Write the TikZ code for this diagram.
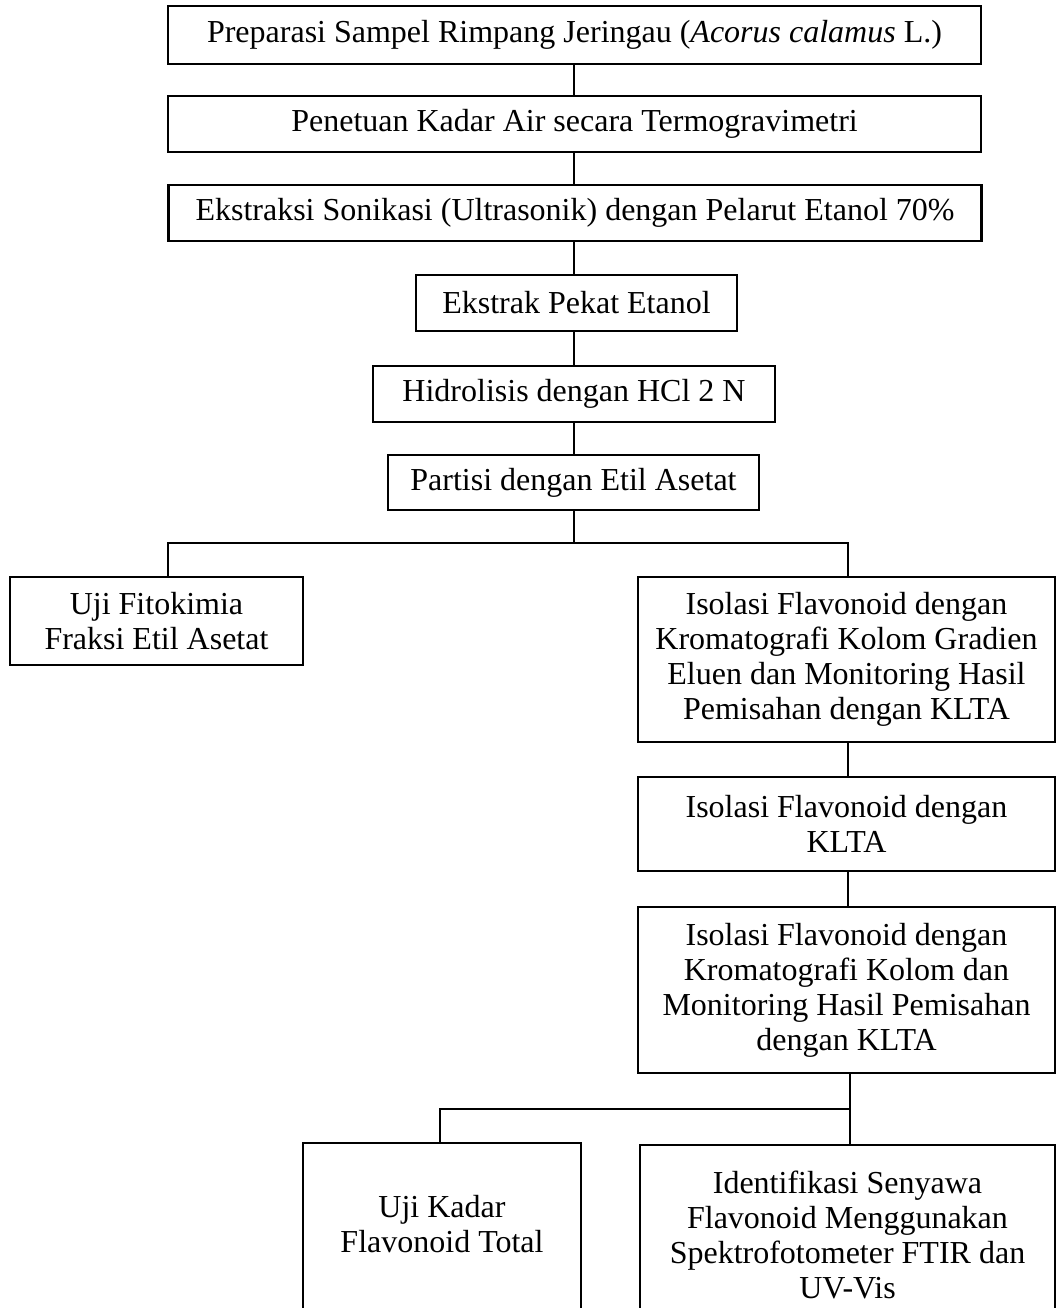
\documentclass[tikz,border=0pt]{standalone}
\usepackage{fontspec}
\setmainfont{Liberation Serif}
\usetikzlibrary{calc, positioning}

\tikzset{
  stepbox/.style={draw, line width=2.4pt, align=center, inner sep=0pt,
    font=\fontsize{32}{35}\selectfont},
  link/.style={line width=2.4pt}
}

\begin{document}
\begin{tikzpicture}[x=1pt, y=1pt]
        \useasboundingbox (0,0) rectangle (1057,-1308);
        \clip (0,0) rectangle (1057,-1308);

        % main column
        \node[stepbox, minimum width=813, minimum height=58] (prep) at (574.5,-35) {Preparasi Sampel Rimpang Jeringau (\textit{Acorus calamus} L.)};
        \node[stepbox, minimum width=813, minimum height=56] (kadarair) at (574.5,-124) {Penetuan Kadar Air secara Termogravimetri};
        \node[stepbox, minimum width=813, minimum height=56] (sonik) at (575,-213) {Ekstraksi Sonikasi (Ultrasonik) dengan Pelarut Etanol 70\%};
        \node[stepbox, minimum width=321, minimum height=56] (pekat) at (576.5,-303) {Ekstrak Pekat Etanol};
        \node[stepbox, minimum width=402, minimum height=56] (hidro) at (574,-394) {Hidrolisis dengan HCl 2 N};
        \node[stepbox, minimum width=371, minimum height=55] (partisi) at (573.5,-482.5) {Partisi dengan Etil Asetat};

        \coordinate (spine) at (574,0);
        \draw[link] (prep.south -| spine) -- (kadarair.north -| spine);
        \draw[link] (kadarair.south -| spine) -- (sonik.north -| spine);
        \draw[link] (sonik.south -| spine) -- (pekat.north -| spine);
        \draw[link] (pekat.south -| spine) -- (hidro.north -| spine);
        \draw[link] (hidro.south -| spine) -- (partisi.north -| spine);

        % branches after partition
        \node[stepbox, minimum width=293, minimum height=88] (fito) at (156.5,-621) {Uji Fitokimia\\Fraksi Etil Asetat};
        \node[stepbox, minimum width=417, minimum height=165] (isoA) at (846.5,-659.5) {Isolasi Flavonoid dengan\\Kromatografi Kolom Gradien\\Eluen dan Monitoring Hasil\\Pemisahan dengan KLTA};
        \node[stepbox, minimum width=417, minimum height=94] (isoB) at (846.5,-824) {Isolasi Flavonoid dengan\\KLTA};
        \node[stepbox, minimum width=417, minimum height=166] (isoC) at (846.5,-990) {Isolasi Flavonoid dengan\\Kromatografi Kolom dan\\Monitoring Hasil Pemisahan\\dengan KLTA};

        \coordinate (splitL) at (168,-543);
        \coordinate (splitR) at (848,-543);
        \draw[link] (partisi.south -| spine) -- (spine |- splitL);
        \draw[link] (splitL |- fito.north) -- (splitL) -- (splitR) -- (splitR |- isoA.north);
        \draw[link] (isoA.south -| splitR) -- (isoB.north -| splitR);
        \draw[link] (isoB.south -| splitR) -- (isoC.north -| splitR);

        % final tests
        \node[stepbox, minimum width=278, minimum height=180, anchor=north] (total) at (442,-1142) {Uji Kadar\\Flavonoid Total\\[-17pt]\mbox{}};
        \node[stepbox, minimum width=415, minimum height=180, anchor=north] (ident) at (847.5,-1144) {Identifikasi Senyawa\\Flavonoid Menggunakan\\Spektrofotometer FTIR dan\\UV-Vis};

        \coordinate (joinL) at (440,-1109);
        \coordinate (joinR) at (850,-1109);
        \draw[link] (isoC.south -| joinR) -- (joinR);
        \draw[link] (joinL |- total.north) -- (joinL) -- (joinR) -- (joinR |- ident.north);
    \end{tikzpicture}
\end{document}
